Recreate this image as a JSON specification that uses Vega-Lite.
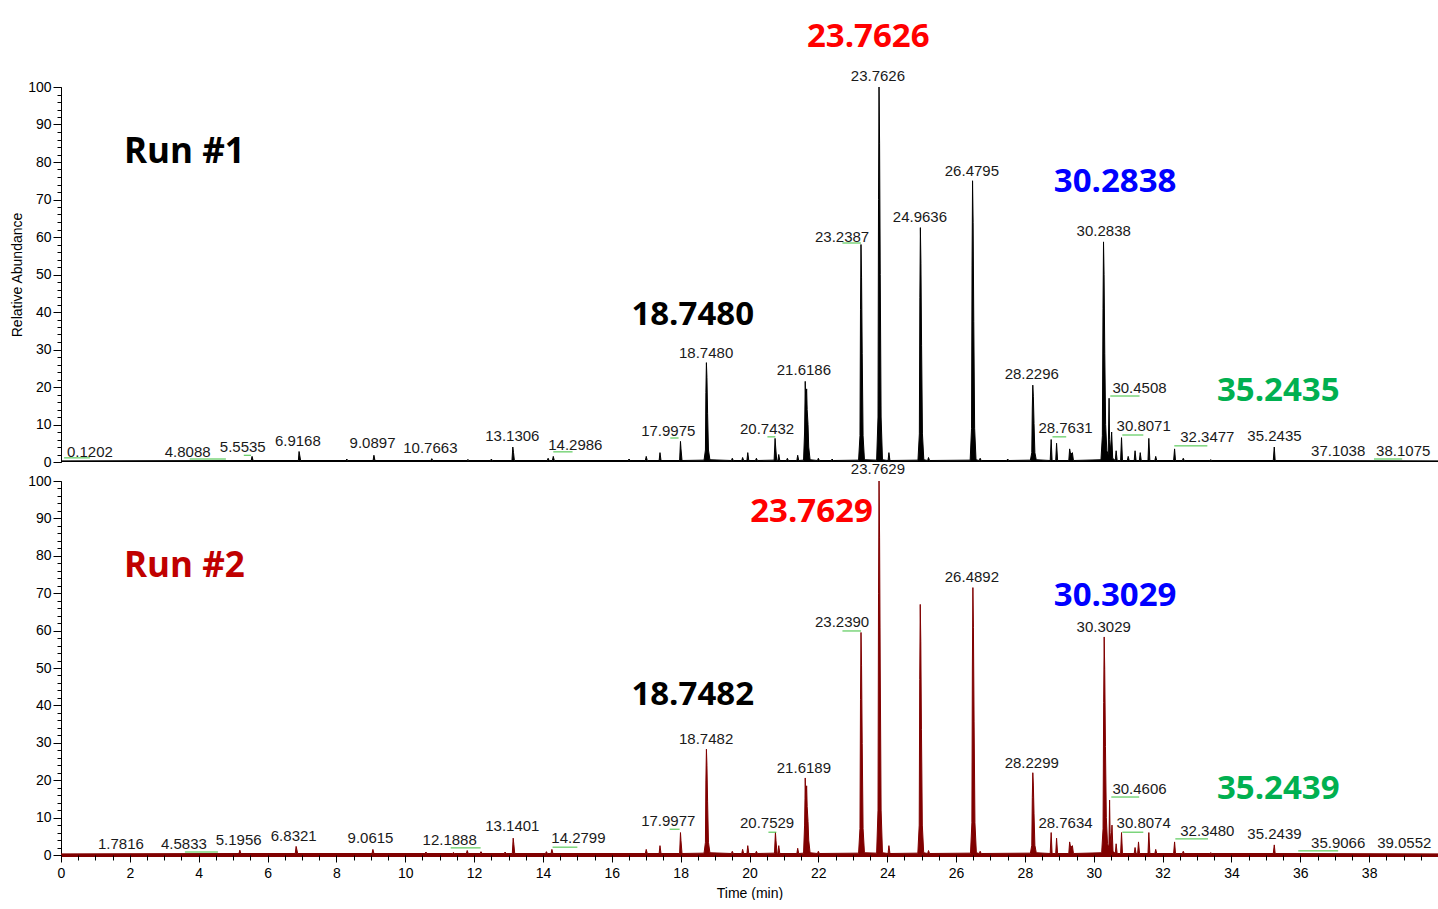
{
  "$schema": "https://vega.github.io/schema/vega-lite/v6.json",
  "background": "white",
  "padding": {"left": 10, "top": 20, "right": 0, "bottom": 0},
  "bounds": "flush",
  "spacing": 19,
  "config": {
    "view": {"stroke": null},
    "font": "Liberation Sans",
    "axis": {"grid": false, "labelFont": "Liberation Sans", "titleFont": "Liberation Sans", "labelColor": "black", "titleColor": "black", "tickColor": "black", "labelFontSize": 14, "titleFontSize": 14, "titleFontWeight": "normal", "labelOverlap": false, "labelFlush": false}
  },
  "datasets": {
    "trace1": [
      {"t":0,"v":0.3},
      {"t":5.525,"v":0.4},{"t":5.55,"v":1.5},{"t":5.58,"v":0.4},
      {"t":6.895,"v":0.4},{"t":6.915,"v":2.8},{"t":6.935,"v":1.8},{"t":6.96,"v":0.4},
      {"t":8.28,"v":0.4},{"t":8.3,"v":0.8},{"t":8.33,"v":0.4},
      {"t":9.065,"v":0.4},{"t":9.09,"v":1.8},{"t":9.12,"v":0.4},
      {"t":10.745,"v":0.4},{"t":10.77,"v":0.9},{"t":10.8,"v":0.4},
      {"t":11.8,"v":0.4},{"t":11.82,"v":0.7},{"t":11.85,"v":0.4},
      {"t":12.48,"v":0.4},{"t":12.5,"v":0.8},{"t":12.53,"v":0.4},
      {"t":13.1,"v":0.4},{"t":13.125,"v":4},{"t":13.145,"v":2.5},{"t":13.17,"v":0.4},
      {"t":14.125,"v":0.4},{"t":14.15,"v":1},{"t":14.18,"v":0.4},
      {"t":14.275,"v":0.4},{"t":14.3,"v":1.5},{"t":14.33,"v":0.4},
      {"t":16.475,"v":0.4},{"t":16.5,"v":0.8},{"t":16.53,"v":0.4},
      {"t":16.975,"v":0.4},{"t":17,"v":1.5},{"t":17.03,"v":0.4},
      {"t":17.375,"v":0.4},{"t":17.4,"v":2.5},{"t":17.43,"v":0.4},
      {"t":17.97,"v":0.4},{"t":17.995,"v":5.5},{"t":18.01,"v":3.5},{"t":18.04,"v":0.4},
      {"t":18.68,"v":0.5},{"t":18.72,"v":3.2},{"t":18.733,"v":18.5},{"t":18.748,"v":26.5},{"t":18.764,"v":22.5},{"t":18.783,"v":13},{"t":18.808,"v":3.2},{"t":18.85,"v":0.6},
      {"t":19.475,"v":0.4},{"t":19.5,"v":1},{"t":19.53,"v":0.4},
      {"t":19.775,"v":0.4},{"t":19.8,"v":1.2},{"t":19.83,"v":0.4},
      {"t":19.925,"v":0.4},{"t":19.95,"v":2.5},{"t":19.98,"v":0.4},
      {"t":20.175,"v":0.4},{"t":20.2,"v":1},{"t":20.23,"v":0.4},
      {"t":20.715,"v":0.5},{"t":20.743,"v":6.3},{"t":20.76,"v":4},{"t":20.79,"v":0.5},
      {"t":20.825,"v":0.4},{"t":20.85,"v":2},{"t":20.88,"v":0.4},
      {"t":21.075,"v":0.4},{"t":21.1,"v":1},{"t":21.13,"v":0.4},
      {"t":21.375,"v":0.4},{"t":21.4,"v":1.8},{"t":21.43,"v":0.4},
      {"t":21.57,"v":0.5},{"t":21.6,"v":8},{"t":21.612,"v":16},{"t":21.6186,"v":21.5},{"t":21.635,"v":15},{"t":21.66,"v":19.5},{"t":21.675,"v":14},{"t":21.7,"v":10},{"t":21.72,"v":4},{"t":21.76,"v":0.6},
      {"t":21.975,"v":0.4},{"t":22,"v":1},{"t":22.03,"v":0.4},
      {"t":22.375,"v":0.4},{"t":22.4,"v":0.8},{"t":22.43,"v":0.4},
      {"t":23.169,"v":0.5},{"t":23.209,"v":7},{"t":23.224,"v":40.6},{"t":23.2387,"v":58},{"t":23.255,"v":49.3},{"t":23.274,"v":29},{"t":23.299,"v":7},{"t":23.339,"v":0.6},
      {"t":23.693,"v":0.5},{"t":23.733,"v":12},{"t":23.748,"v":70},{"t":23.7626,"v":100},{"t":23.779,"v":85},{"t":23.798,"v":50},{"t":23.823,"v":12},{"t":23.863,"v":0.6},
      {"t":24.025,"v":0.4},{"t":24.05,"v":2.5},{"t":24.08,"v":0.4},
      {"t":24.894,"v":0.5},{"t":24.934,"v":7.5},{"t":24.949,"v":43.8},{"t":24.9636,"v":62.5},{"t":24.98,"v":53},{"t":24.999,"v":31},{"t":25.024,"v":7.5},{"t":25.064,"v":0.6},
      {"t":25.175,"v":0.4},{"t":25.2,"v":1.2},{"t":25.23,"v":0.4},
      {"t":26.41,"v":0.5},{"t":26.45,"v":9},{"t":26.465,"v":52.5},{"t":26.4795,"v":75},{"t":26.496,"v":63.8},{"t":26.515,"v":37.5},{"t":26.54,"v":9},{"t":26.58,"v":0.6},
      {"t":26.675,"v":0.4},{"t":26.7,"v":1},{"t":26.73,"v":0.4},
      {"t":27.475,"v":0.4},{"t":27.5,"v":0.8},{"t":27.53,"v":0.4},
      {"t":28.16,"v":0.5},{"t":28.2,"v":2.5},{"t":28.215,"v":14.4},{"t":28.2296,"v":20.5},{"t":28.246,"v":17.4},{"t":28.265,"v":10.3},{"t":28.29,"v":2.5},{"t":28.33,"v":0.6},
      {"t":28.735,"v":0.4},{"t":28.763,"v":6},{"t":28.79,"v":0.4},
      {"t":28.895,"v":0.4},{"t":28.92,"v":5},{"t":28.95,"v":0.4},
      {"t":29.275,"v":0.4},{"t":29.3,"v":3.5},{"t":29.33,"v":2},{"t":29.38,"v":2.5},{"t":29.41,"v":0.4},
      {"t":30.21,"v":0.6},{"t":30.25,"v":7},{"t":30.269,"v":41},{"t":30.2838,"v":58.7},{"t":30.3,"v":50},{"t":30.32,"v":29},{"t":30.345,"v":10},{"t":30.38,"v":3},{"t":30.42,"v":2},{"t":30.445,"v":17},{"t":30.46,"v":6},{"t":30.49,"v":3},{"t":30.52,"v":8},{"t":30.55,"v":1},
      {"t":30.625,"v":0.4},{"t":30.65,"v":3},{"t":30.68,"v":0.4},
      {"t":30.78,"v":0.4},{"t":30.807,"v":6.5},{"t":30.835,"v":0.4},
      {"t":30.975,"v":0.4},{"t":31,"v":1.5},{"t":31.03,"v":0.4},
      {"t":31.175,"v":0.4},{"t":31.2,"v":3},{"t":31.23,"v":0.4},
      {"t":31.325,"v":0.4},{"t":31.35,"v":2.5},{"t":31.38,"v":0.4},
      {"t":31.575,"v":0.4},{"t":31.6,"v":6.3},{"t":31.63,"v":0.4},
      {"t":31.775,"v":0.4},{"t":31.8,"v":1.5},{"t":31.83,"v":0.4},
      {"t":32.32,"v":0.4},{"t":32.348,"v":3.5},{"t":32.375,"v":0.4},
      {"t":32.575,"v":0.4},{"t":32.6,"v":1},{"t":32.63,"v":0.4},
      {"t":33.375,"v":0.4},{"t":33.4,"v":0.6},{"t":33.43,"v":0.4},
      {"t":35.215,"v":0.4},{"t":35.2435,"v":4},{"t":35.27,"v":0.4},
      {"t":40,"v":0.3}
    ],
    "trace2": [
      {"t":0,"v":0.3},
      {"t":5.17,"v":0.4},{"t":5.195,"v":1.3},{"t":5.225,"v":0.4},
      {"t":6.805,"v":0.4},{"t":6.83,"v":2.3},{"t":6.85,"v":1.5},{"t":6.875,"v":0.4},
      {"t":9.035,"v":0.4},{"t":9.06,"v":1.5},{"t":9.09,"v":0.4},
      {"t":10.575,"v":0.4},{"t":10.6,"v":0.8},{"t":10.63,"v":0.4},
      {"t":11.375,"v":0.4},{"t":11.4,"v":0.7},{"t":11.43,"v":0.4},
      {"t":11.775,"v":0.4},{"t":11.8,"v":1.2},{"t":11.83,"v":0.4},
      {"t":12.175,"v":0.4},{"t":12.2,"v":0.9},{"t":12.23,"v":0.4},
      {"t":12.875,"v":0.4},{"t":12.9,"v":0.8},{"t":12.93,"v":0.4},
      {"t":13.11,"v":0.4},{"t":13.135,"v":4.5},{"t":13.155,"v":2.8},{"t":13.18,"v":0.4},
      {"t":14.075,"v":0.4},{"t":14.1,"v":0.9},{"t":14.13,"v":0.4},
      {"t":14.235,"v":0.4},{"t":14.26,"v":1.5},{"t":14.29,"v":0.4},
      {"t":16.975,"v":0.4},{"t":17,"v":1.5},{"t":17.03,"v":0.4},
      {"t":17.375,"v":0.4},{"t":17.4,"v":2.5},{"t":17.43,"v":0.4},
      {"t":17.97,"v":0.4},{"t":17.995,"v":6},{"t":18.01,"v":3.8},{"t":18.04,"v":0.4},
      {"t":18.68,"v":0.5},{"t":18.72,"v":3.4},{"t":18.733,"v":19.8},{"t":18.7482,"v":28.3},{"t":18.764,"v":24},{"t":18.783,"v":14.2},{"t":18.808,"v":3.4},{"t":18.85,"v":0.6},
      {"t":19.475,"v":0.4},{"t":19.5,"v":1},{"t":19.53,"v":0.4},
      {"t":19.775,"v":0.4},{"t":19.8,"v":1.5},{"t":19.83,"v":0.4},
      {"t":19.925,"v":0.4},{"t":19.95,"v":2.5},{"t":19.98,"v":0.4},
      {"t":20.175,"v":0.4},{"t":20.2,"v":1},{"t":20.23,"v":0.4},
      {"t":20.725,"v":0.5},{"t":20.753,"v":6},{"t":20.77,"v":3.8},{"t":20.8,"v":0.5},
      {"t":20.825,"v":0.4},{"t":20.85,"v":2.5},{"t":20.88,"v":0.4},
      {"t":21.375,"v":0.4},{"t":21.4,"v":1.8},{"t":21.43,"v":0.4},
      {"t":21.57,"v":0.5},{"t":21.6,"v":8},{"t":21.612,"v":15},{"t":21.6189,"v":20.6},{"t":21.635,"v":14},{"t":21.66,"v":18.5},{"t":21.675,"v":13},{"t":21.7,"v":9},{"t":21.72,"v":4},{"t":21.76,"v":0.6},
      {"t":21.975,"v":0.4},{"t":22,"v":1},{"t":22.03,"v":0.4},
      {"t":23.169,"v":0.5},{"t":23.209,"v":7.1},{"t":23.224,"v":41.6},{"t":23.239,"v":59.5},{"t":23.255,"v":50.6},{"t":23.274,"v":29.8},{"t":23.299,"v":7.1},{"t":23.339,"v":0.6},
      {"t":23.693,"v":0.5},{"t":23.733,"v":12},{"t":23.748,"v":70},{"t":23.7629,"v":100},{"t":23.779,"v":85},{"t":23.798,"v":50},{"t":23.823,"v":12},{"t":23.863,"v":0.6},
      {"t":24.025,"v":0.4},{"t":24.05,"v":2.5},{"t":24.08,"v":0.4},
      {"t":24.89,"v":0.5},{"t":24.93,"v":8},{"t":24.945,"v":46.9},{"t":24.96,"v":67},{"t":24.976,"v":57},{"t":24.995,"v":33.5},{"t":25.02,"v":8},{"t":25.06,"v":0.6},
      {"t":25.175,"v":0.4},{"t":25.2,"v":1.2},{"t":25.23,"v":0.4},
      {"t":26.42,"v":0.5},{"t":26.46,"v":8.6},{"t":26.474,"v":50},{"t":26.4892,"v":71.5},{"t":26.505,"v":60.8},{"t":26.524,"v":35.8},{"t":26.549,"v":8.6},{"t":26.59,"v":0.6},
      {"t":26.675,"v":0.4},{"t":26.7,"v":1},{"t":26.73,"v":0.4},
      {"t":28.16,"v":0.5},{"t":28.2,"v":2.6},{"t":28.215,"v":15.4},{"t":28.2299,"v":22},{"t":28.246,"v":18.7},{"t":28.265,"v":11},{"t":28.29,"v":2.6},{"t":28.33,"v":0.6},
      {"t":28.735,"v":0.4},{"t":28.763,"v":6},{"t":28.79,"v":0.4},
      {"t":28.895,"v":0.4},{"t":28.92,"v":4.5},{"t":28.95,"v":0.4},
      {"t":29.275,"v":0.4},{"t":29.3,"v":3.5},{"t":29.33,"v":2},{"t":29.38,"v":2.5},{"t":29.41,"v":0.4},
      {"t":30.23,"v":0.6},{"t":30.27,"v":7},{"t":30.288,"v":40.8},{"t":30.3029,"v":58.3},{"t":30.319,"v":49.6},{"t":30.34,"v":29},{"t":30.365,"v":10},{"t":30.4,"v":3},{"t":30.44,"v":2},{"t":30.46,"v":14.7},{"t":30.475,"v":6},{"t":30.5,"v":3},{"t":30.53,"v":8},{"t":30.56,"v":1},
      {"t":30.625,"v":0.4},{"t":30.65,"v":3},{"t":30.68,"v":0.4},
      {"t":30.78,"v":0.4},{"t":30.807,"v":6},{"t":30.835,"v":0.4},
      {"t":31.175,"v":0.4},{"t":31.2,"v":2},{"t":31.23,"v":0.4},
      {"t":31.275,"v":0.4},{"t":31.3,"v":3.5},{"t":31.33,"v":0.4},
      {"t":31.575,"v":0.4},{"t":31.6,"v":6},{"t":31.63,"v":0.4},
      {"t":31.775,"v":0.4},{"t":31.8,"v":1.5},{"t":31.83,"v":0.4},
      {"t":32.32,"v":0.4},{"t":32.348,"v":3.5},{"t":32.375,"v":0.4},
      {"t":32.575,"v":0.4},{"t":32.6,"v":1},{"t":32.63,"v":0.4},
      {"t":33.375,"v":0.4},{"t":33.4,"v":0.6},{"t":33.43,"v":0.4},
      {"t":35.215,"v":0.4},{"t":35.244,"v":2.7},{"t":35.27,"v":0.4},
      {"t":40,"v":0.3}
    ],
    "labels1": [
      {"label":"0.1202","lx":0.84,"ly":1.3},
      {"label":"4.8088","lx":3.68,"ly":1.3},
      {"label":"5.5535","lx":5.28,"ly":2.6},
      {"label":"6.9168","lx":6.88,"ly":4.2},
      {"label":"9.0897","lx":9.05,"ly":3.7},
      {"label":"10.7663","lx":10.73,"ly":2.3},
      {"label":"13.1306","lx":13.11,"ly":5.5},
      {"label":"14.2986","lx":14.94,"ly":3.1},
      {"label":"17.9975","lx":17.64,"ly":6.9},
      {"label":"18.7480","lx":18.74,"ly":27.7},
      {"label":"20.7432","lx":20.51,"ly":7.4},
      {"label":"21.6186","lx":21.58,"ly":23.1},
      {"label":"23.2387","lx":22.69,"ly":58.6},
      {"label":"23.7626","lx":23.73,"ly":101.6},
      {"label":"24.9636","lx":24.95,"ly":63.9},
      {"label":"26.4795","lx":26.46,"ly":76.2},
      {"label":"28.2296","lx":28.2,"ly":22.1},
      {"label":"28.7631","lx":29.18,"ly":7.7},
      {"label":"30.2838","lx":30.29,"ly":60.2},
      {"label":"30.4508","lx":31.33,"ly":18.3},
      {"label":"30.8071","lx":31.45,"ly":8.2},
      {"label":"32.3477","lx":33.3,"ly":5.3},
      {"label":"35.2435","lx":35.25,"ly":5.5},
      {"label":"37.1038","lx":37.1,"ly":1.5},
      {"label":"38.1075","lx":38.99,"ly":1.5}
    ],
    "labels2": [
      {"label":"1.7816","lx":1.74,"ly":1.5},
      {"label":"4.5833","lx":3.57,"ly":1.5},
      {"label":"5.1956","lx":5.16,"ly":2.6},
      {"label":"6.8321","lx":6.76,"ly":3.7},
      {"label":"9.0615","lx":8.99,"ly":3.1},
      {"label":"12.1888","lx":11.29,"ly":2.6},
      {"label":"13.1401","lx":13.11,"ly":6.4},
      {"label":"14.2799","lx":15.03,"ly":3.1},
      {"label":"17.9977","lx":17.64,"ly":7.7},
      {"label":"18.7482","lx":18.74,"ly":29.6},
      {"label":"20.7529","lx":20.51,"ly":7.2},
      {"label":"21.6189","lx":21.58,"ly":21.9},
      {"label":"23.2390","lx":22.69,"ly":60.9},
      {"label":"23.7629","lx":23.73,"ly":101.8},
      {"label":"26.4892","lx":26.46,"ly":72.9},
      {"label":"28.2299","lx":28.2,"ly":23.2},
      {"label":"28.7634","lx":29.18,"ly":7.2},
      {"label":"30.3029","lx":30.29,"ly":59.6},
      {"label":"30.4606","lx":31.33,"ly":16.2},
      {"label":"30.8074","lx":31.45,"ly":7.2},
      {"label":"32.3480","lx":33.3,"ly":5.0},
      {"label":"35.2439","lx":35.25,"ly":4.2},
      {"label":"35.9066","lx":37.1,"ly":1.8},
      {"label":"39.0552","lx":39.02,"ly":1.8}
    ],
    "conn1": [
      {"t1":0.09,"t2":0.84,"v":1.1},
      {"t1":3.74,"t2":4.79,"v":0.8},
      {"t1":5.31,"t2":5.52,"v":1.8},
      {"t1":14.3,"t2":14.86,"v":2.7},
      {"t1":17.7,"t2":17.94,"v":6.4},
      {"t1":20.52,"t2":20.75,"v":6.7},
      {"t1":22.7,"t2":23.24,"v":58.4},
      {"t1":28.8,"t2":29.2,"v":6.7},
      {"t1":30.48,"t2":31.33,"v":17.6},
      {"t1":30.83,"t2":31.44,"v":7.2},
      {"t1":32.34,"t2":33.3,"v":4.3},
      {"t1":38.14,"t2":38.96,"v":0.8}
    ],
    "conn2": [
      {"t1":3.6,"t2":4.56,"v":0.8},
      {"t1":11.32,"t2":12.19,"v":1.9},
      {"t1":14.28,"t2":15.0,"v":2.1},
      {"t1":17.68,"t2":17.97,"v":6.9},
      {"t1":20.55,"t2":20.78,"v":6.1},
      {"t1":22.7,"t2":23.24,"v":59.9},
      {"t1":30.51,"t2":31.32,"v":15.5},
      {"t1":30.83,"t2":31.44,"v":6.1},
      {"t1":32.37,"t2":33.32,"v":4.3},
      {"t1":35.94,"t2":37.1,"v":1.1}
    ],
    "big1": [
      {"text":"23.7626","peak":"23.76","t":23.45,"v":110.7},
      {"text":"18.7480","peak":"18.75","t":18.35,"v":36.5},
      {"text":"30.2838","peak":"30.28","t":30.62,"v":72},
      {"text":"35.2435","peak":"35.24","t":35.36,"v":16.3}
    ],
    "big2": [
      {"text":"23.7629","peak":"23.76","t":21.8,"v":89},
      {"text":"18.7482","peak":"18.75","t":18.35,"v":40.1},
      {"text":"30.3029","peak":"30.28","t":30.62,"v":66.6},
      {"text":"35.2439","peak":"35.24","t":35.36,"v":15}
    ],
    "run1": [{"text":"Run #1","t":1.83,"v":79.7}],
    "run2": [{"text":"Run #2","t":1.83,"v":74.3}]
  },
  "vconcat": [
    {
      "width": 1377,
      "height": 375,
      "resolve": {"axis": {"y": "independent"}},
      "layer": [
        {
          "data": {"name": "trace1"},
          "mark": {"type": "area", "color": "black", "opacity": 1, "line": {"color": "black", "strokeWidth": 1}, "clip": false},
          "encoding": {
            "x": {"field": "t", "type": "quantitative", "scale": {"domain": [0, 40], "nice": false},
                  "axis": {"title": null, "labels": false, "ticks": false, "domain": true, "domainColor": "black", "domainWidth": 2}},
            "y": {"field": "v", "type": "quantitative", "scale": {"domain": [0, 100], "nice": false},
                  "axis": {"orient": "left", "title": "Relative Abundance", "titlePadding": 3,
                           "values": [0,10,20,30,40,50,60,70,80,90,100],
                           "tickSize": 8, "labelOverlap": false, "labelPadding": 2, "domainColor": "black"}}
          }
        },
        {
          "data": {"name": "conn1"},
          "mark": {"type": "rule", "color": "#3CC03C", "strokeWidth": 1},
          "encoding": {
            "x": {"field": "t1", "type": "quantitative", "axis": null},
            "x2": {"field": "t2"},
            "y": {"field": "v", "type": "quantitative",
                  "axis": {"orient": "left", "title": null, "labels": false, "domain": false, "tickSize": 4,
                           "values": [0,2,4,6,8,10,12,14,16,18,20,22,24,26,28,30,32,34,36,38,40,42,44,46,48,50,52,54,56,58,60,62,64,66,68,70,72,74,76,78,80,82,84,86,88,90,92,94,96,98,100]}}
          }
        },
        {
          "data": {"name": "labels1"},
          "mark": {"type": "text", "font": "Liberation Sans", "fontSize": 15, "color": "#1a1a1a", "baseline": "alphabetic", "align": "center"},
          "encoding": {
            "x": {"field": "lx", "type": "quantitative", "axis": null},
            "y": {"field": "ly", "type": "quantitative", "axis": null},
            "text": {"field": "label"}
          }
        },
        {
          "data": {"name": "big1"},
          "mark": {"type": "text", "font": "Open Sans", "fontWeight": "bold", "fontSize": 33, "baseline": "alphabetic", "align": "center"},
          "encoding": {
            "x": {"field": "t", "type": "quantitative", "axis": null},
            "y": {"field": "v", "type": "quantitative", "axis": null},
            "text": {"field": "text"},
            "color": {"field": "peak", "type": "nominal", "legend": null,
                      "scale": {"domain": ["18.75", "23.76", "30.28", "35.24"], "range": ["#000000", "#FF0000", "#0000FF", "#00B050"]}}
          }
        },
        {
          "data": {"name": "run1"},
          "mark": {"type": "text", "font": "Open Sans", "fontWeight": "bold", "fontSize": 35, "baseline": "alphabetic", "align": "left", "color": "#000000"},
          "encoding": {
            "x": {"field": "t", "type": "quantitative", "axis": null},
            "y": {"field": "v", "type": "quantitative", "axis": null},
            "text": {"field": "text"}
          }
        }
      ]
    },
    {
      "width": 1377,
      "height": 374,
      "resolve": {"axis": {"x": "independent", "y": "independent"}},
      "layer": [
        {
          "data": {"name": "trace2"},
          "mark": {"type": "area", "color": "#800000", "opacity": 1, "line": {"color": "#800000", "strokeWidth": 1}, "clip": false},
          "encoding": {
            "x": {"field": "t", "type": "quantitative", "scale": {"domain": [0, 40], "nice": false},
                  "axis": {"orient": "bottom", "title": "Time (min)", "titlePadding": 6,
                           "values": [0,2,4,6,8,10,12,14,16,18,20,22,24,26,28,30,32,34,36,38,40],
                           "labelExpr": "datum.value < 40 ? datum.label : ''",
                           "tickSize": 7, "labelOverlap": false, "labelPadding": 4, "domainColor": "#800000", "domainWidth": 3}},
            "y": {"field": "v", "type": "quantitative", "scale": {"domain": [0, 100], "nice": false},
                  "axis": {"orient": "left", "title": null,
                           "values": [0,10,20,30,40,50,60,70,80,90,100],
                           "tickSize": 8, "labelOverlap": false, "labelPadding": 2, "domainColor": "black"}}
          }
        },
        {
          "data": {"name": "conn2"},
          "mark": {"type": "rule", "color": "#3CC03C", "strokeWidth": 1},
          "encoding": {
            "x": {"field": "t1", "type": "quantitative",
                  "axis": {"orient": "bottom", "title": null, "labels": false, "domain": false, "tickSize": 5,
                           "values": [0,0.5,1,1.5,2,2.5,3,3.5,4,4.5,5,5.5,6,6.5,7,7.5,8,8.5,9,9.5,10,10.5,11,11.5,12,12.5,13,13.5,14,14.5,15,15.5,16,16.5,17,17.5,18,18.5,19,19.5,20,20.5,21,21.5,22,22.5,23,23.5,24,24.5,25,25.5,26,26.5,27,27.5,28,28.5,29,29.5,30,30.5,31,31.5,32,32.5,33,33.5,34,34.5,35,35.5,36,36.5,37,37.5,38,38.5,39,39.5,40]}},
            "x2": {"field": "t2"},
            "y": {"field": "v", "type": "quantitative",
                  "axis": {"orient": "left", "title": null, "labels": false, "domain": false, "tickSize": 4,
                           "values": [0,2,4,6,8,10,12,14,16,18,20,22,24,26,28,30,32,34,36,38,40,42,44,46,48,50,52,54,56,58,60,62,64,66,68,70,72,74,76,78,80,82,84,86,88,90,92,94,96,98,100]}}
          }
        },
        {
          "data": {"name": "labels2"},
          "mark": {"type": "text", "font": "Liberation Sans", "fontSize": 15, "color": "#1a1a1a", "baseline": "alphabetic", "align": "center"},
          "encoding": {
            "x": {"field": "lx", "type": "quantitative", "axis": null},
            "y": {"field": "ly", "type": "quantitative", "axis": null},
            "text": {"field": "label"}
          }
        },
        {
          "data": {"name": "big2"},
          "mark": {"type": "text", "font": "Open Sans", "fontWeight": "bold", "fontSize": 33, "baseline": "alphabetic", "align": "center"},
          "encoding": {
            "x": {"field": "t", "type": "quantitative", "axis": null},
            "y": {"field": "v", "type": "quantitative", "axis": null},
            "text": {"field": "text"},
            "color": {"field": "peak", "type": "nominal", "legend": null,
                      "scale": {"domain": ["18.75", "23.76", "30.28", "35.24"], "range": ["#000000", "#FF0000", "#0000FF", "#00B050"]}}
          }
        },
        {
          "data": {"name": "run2"},
          "mark": {"type": "text", "font": "Open Sans", "fontWeight": "bold", "fontSize": 35, "baseline": "alphabetic", "align": "left", "color": "#C00000"},
          "encoding": {
            "x": {"field": "t", "type": "quantitative", "axis": null},
            "y": {"field": "v", "type": "quantitative", "axis": null},
            "text": {"field": "text"}
          }
        }
      ]
    }
  ]
}
